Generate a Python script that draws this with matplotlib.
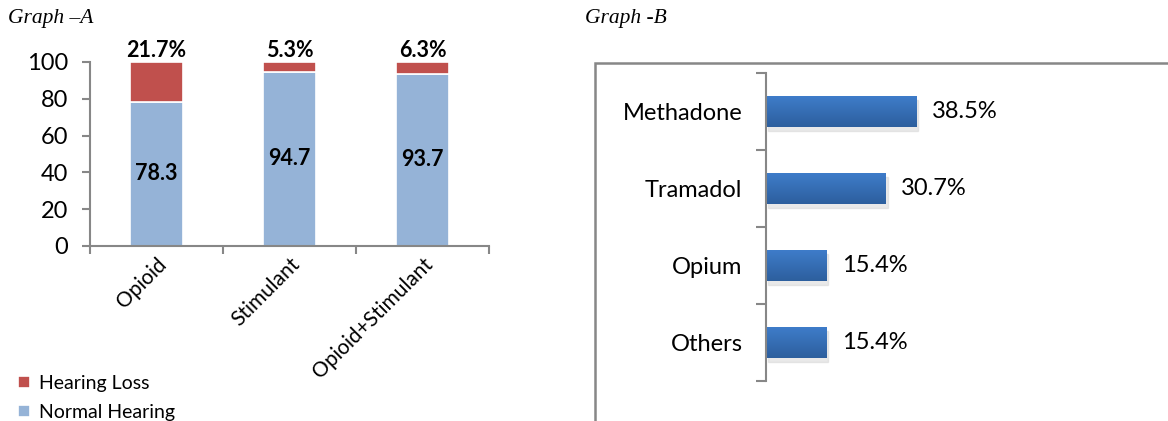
import matplotlib
matplotlib.use("Agg")
import matplotlib.pyplot as plt
import numpy as np
from matplotlib.patches import Rectangle

plt.rcParams['font.family'] = ['Lato', 'DejaVu Sans']

# Graph A data
groups = ['Opioid', 'Stimulant', 'Opioid+Stimulant']
normal = [78.3, 94.7, 93.7]
loss = [21.7, 5.3, 6.3]

# Graph B data
drugs = ['Methadone', 'Tramadol', 'Opium', 'Others']
shares = [38.5, 30.7, 15.4, 15.4]

W, H = 1168, 421
fig = plt.figure(figsize=(W / 100, H / 100), dpi=100)
grey = '#878787'

# ---------- Graph A ----------
axA = fig.add_axes([90 / W, 1 - 246 / H, 399 / W, 184 / H])
x = np.arange(len(groups))
b1 = axA.bar(x, normal, width=0.4, color='#95B3D7', edgecolor='white', linewidth=1.2, label='Normal Hearing')
b2 = axA.bar(x, loss, width=0.4, bottom=normal, color='#C0504D', edgecolor='white', linewidth=1.2, label='Hearing Loss')
axA.set_xlim(-0.5, 2.5)
axA.set_ylim(0, 100)
axA.set_yticks(range(0, 101, 20))
axA.set_xticks(x)
axA.set_xticklabels(groups, rotation=45, ha='right', va='top', rotation_mode='anchor', fontsize=15)
axA.set_xticks(np.arange(-0.5, 3, 1), minor=True)
axA.tick_params(axis='x', which='major', length=0, pad=6)
axA.tick_params(axis='x', which='minor', length=6, color=grey, width=1.5)
axA.tick_params(axis='y', length=6, color=grey, width=1.5, labelsize=17, pad=10)
for s in ['top', 'right']:
    axA.spines[s].set_visible(False)
for s in ['left', 'bottom']:
    axA.spines[s].set_color(grey)
    axA.spines[s].set_linewidth(1.5)
for i in range(len(groups)):
    axA.text(x[i], normal[i] / 2, f'{normal[i]}', ha='center', va='center', fontsize=15.5, fontweight='bold')
    axA.text(x[i], 100.5, f'{loss[i]}%', ha='center', va='bottom', fontsize=15.5, fontweight='bold')
fig.legend(handles=[b2, b1], loc='upper left', bbox_to_anchor=(18 / W, 1 - 375 / H), frameon=False,
           fontsize=14, handlelength=0.6, handleheight=0.6, handletextpad=0.5, labelspacing=0.6,
           borderaxespad=0, borderpad=0)
fig.text(8 / W, 1 - 18 / H, 'Graph \u2013A', family='Liberation Serif', style='italic', fontsize=15.5, va='center')

# ---------- Graph B ----------
fig.text(585 / W, 1 - 18 / H, 'Graph -B', family='Liberation Serif', style='italic', fontsize=15.5, va='center')
fig.patches.append(Rectangle((595 / W, -0.1), 1.0, 1 - 63 / H + 0.1, transform=fig.transFigure,
                             fill=False, edgecolor=grey, linewidth=1.8))
axB = fig.add_axes([766 / W, 1 - 381 / H, 390 / W, 308 / H])
y = np.arange(len(drugs))
bars = axB.barh(y, shares, height=0.4, color='#3A70B8')
grad = np.linspace(0, 1, 50).reshape(-1, 1)
cmap = matplotlib.colors.LinearSegmentedColormap.from_list('g', ['#3E7CC9', '#2D5F9E'])
for bar in bars:
    bx, by, bw, bh = bar.get_x(), bar.get_y(), bar.get_width(), bar.get_height()
    sh = Rectangle((bx + 0.5, by + 0.05), bw, bh, color='#d4d4d4', alpha=0.5, zorder=1)
    axB.add_patch(sh)
    im = axB.imshow(grad, cmap=cmap, aspect='auto', extent=(bx, bx + bw, by + bh, by), zorder=2)
    im.set_clip_path(bar)
    bar.set_zorder(2)
axB.set_xlim(0, 100)
axB.set_ylim(len(drugs) - 0.5, -0.5)
for i in range(len(drugs)):
    axB.text(shares[i] + 4, y[i], f'{shares[i]}%', va='center', ha='left', fontsize=17)
axB.set_yticks(y)
axB.set_yticklabels(drugs, fontsize=17)
axB.set_yticks(np.arange(-0.5, 4, 1), minor=True)
axB.tick_params(axis='y', which='major', length=0, pad=17)
axB.tick_params(axis='y', which='minor', length=7, color=grey, width=1.5)
axB.set_xticks([])
for s in ['top', 'right', 'bottom']:
    axB.spines[s].set_visible(False)
axB.spines['left'].set_color(grey)
axB.spines['left'].set_linewidth(1.5)

fig.savefig('out.png', dpi=100)
